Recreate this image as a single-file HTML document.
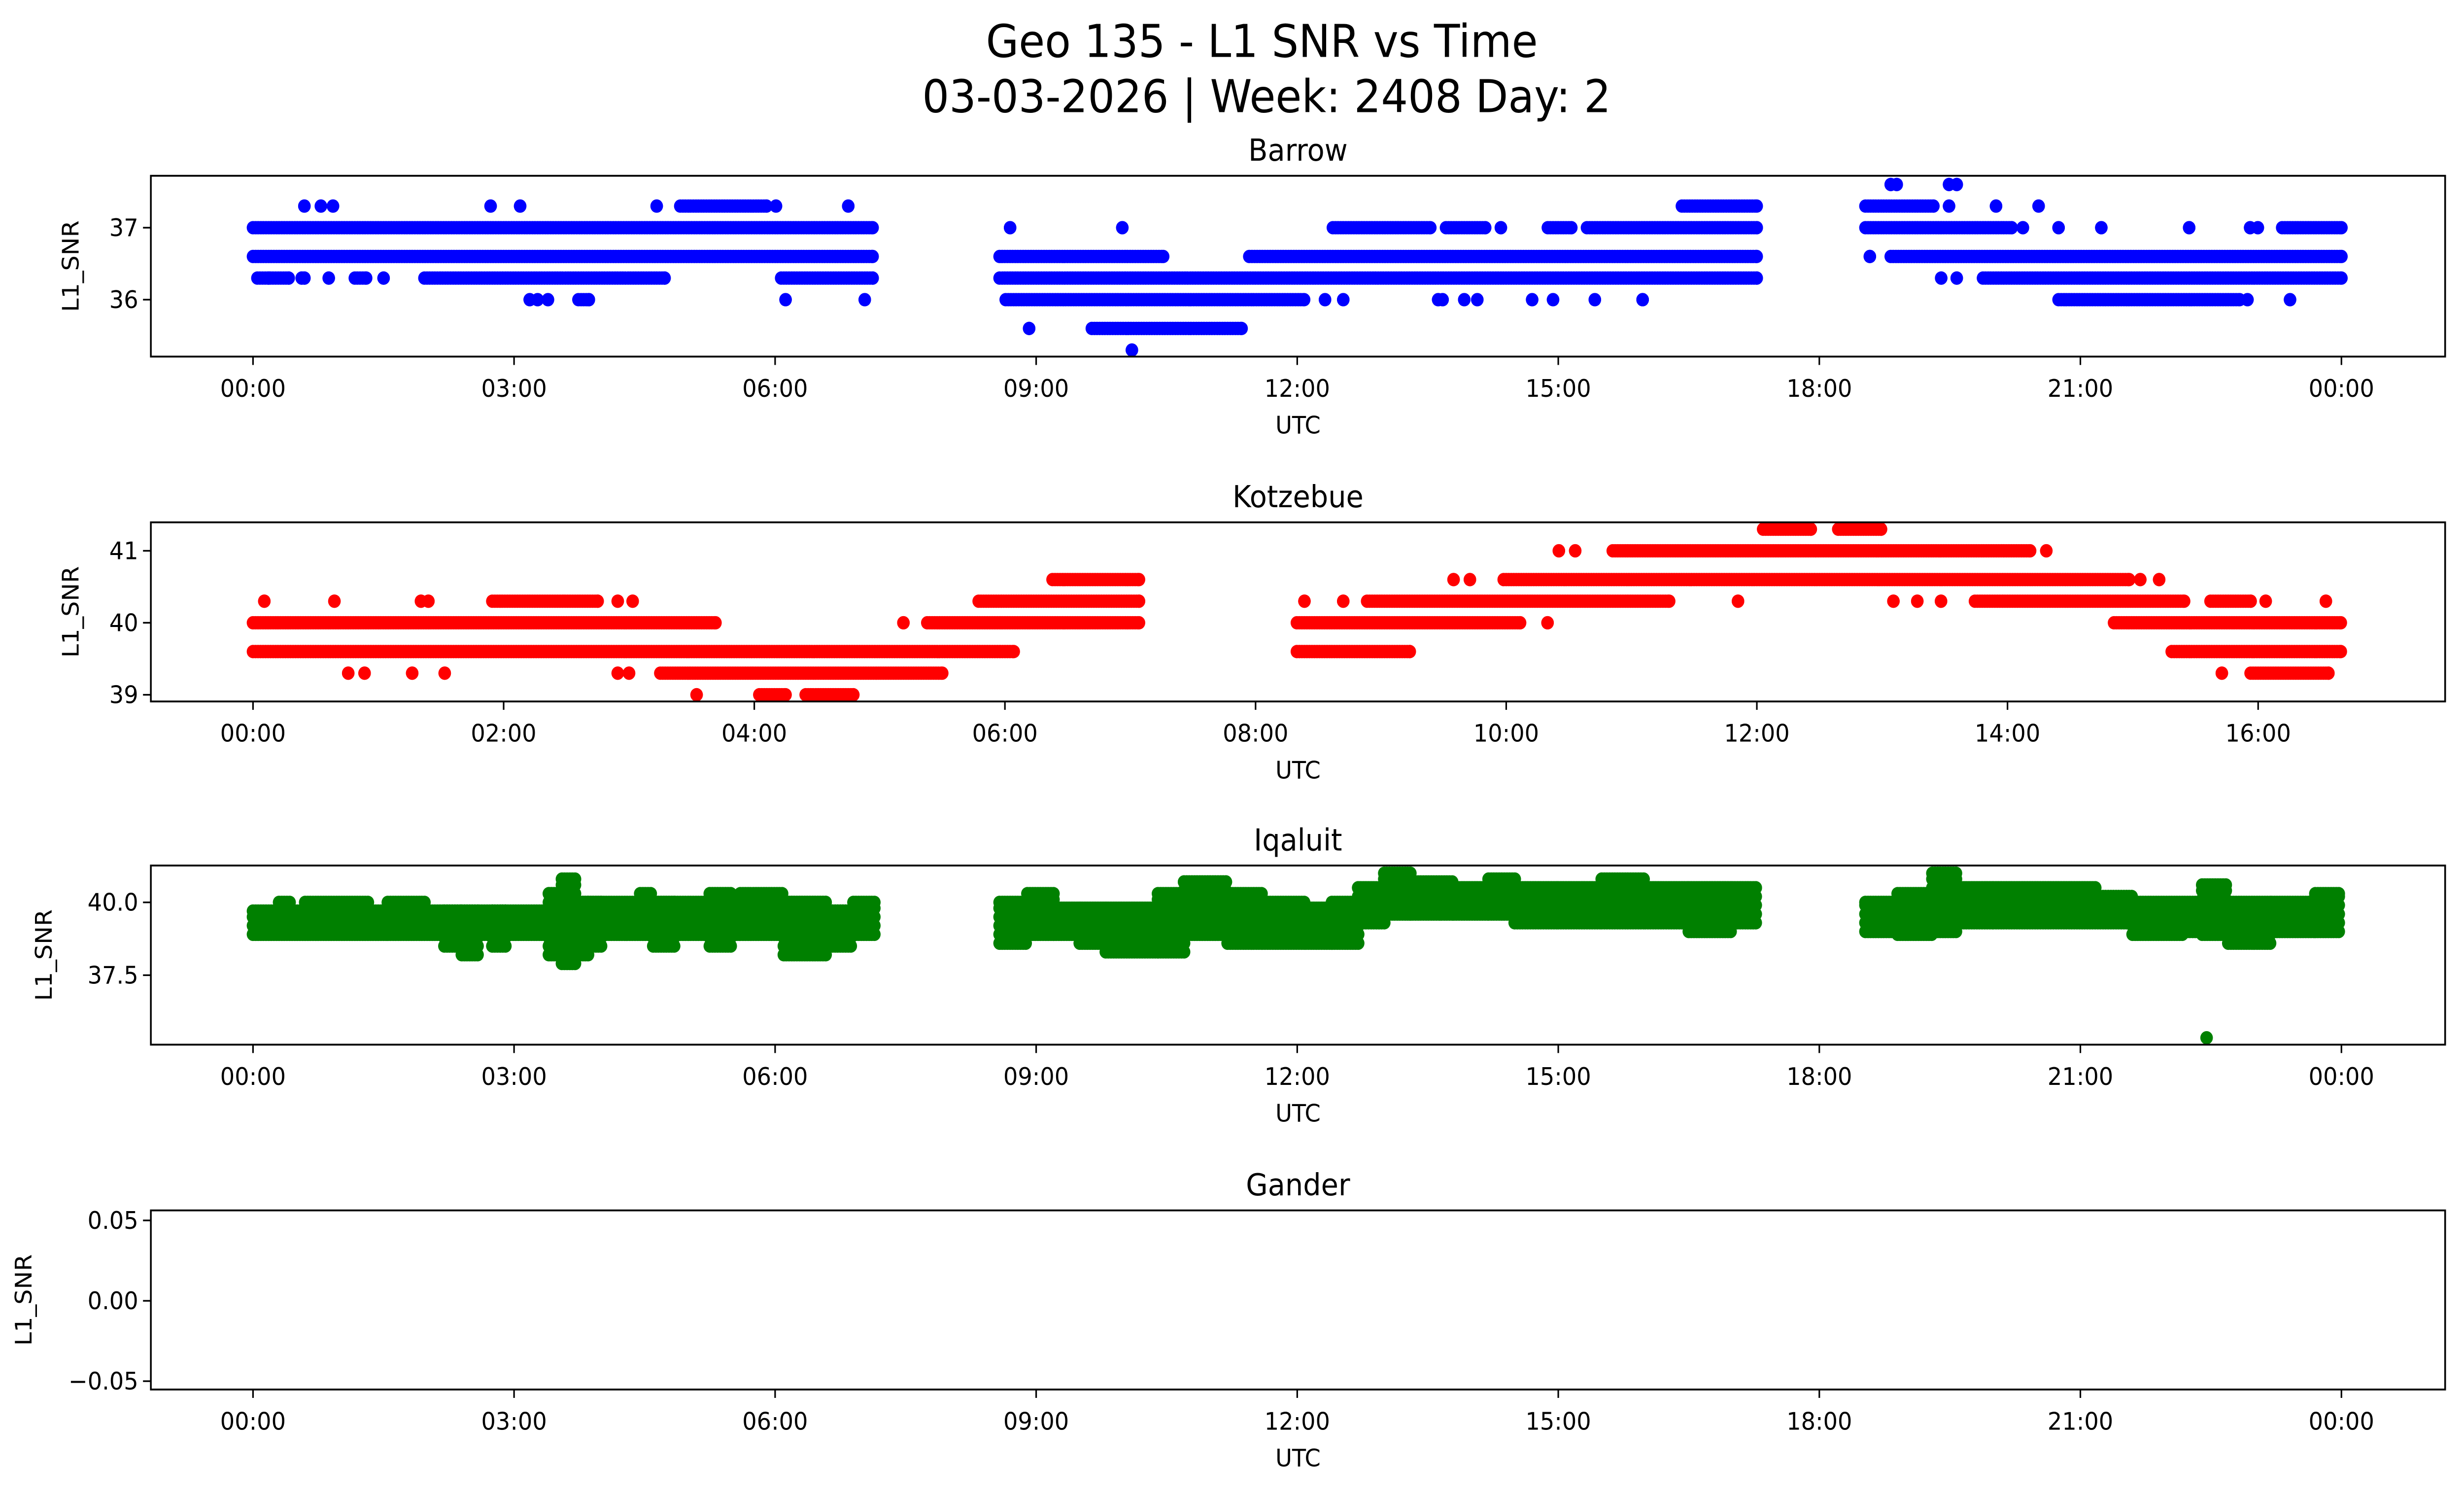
<!DOCTYPE html>
<html><head><meta charset="utf-8"><style>
html,body{margin:0;padding:0;background:#fff;width:100%;height:100%;overflow:hidden;}
svg{display:block;position:absolute;left:0;top:0;width:100vw;height:100vh;font-family:"DejaVu Sans","Liberation Sans",sans-serif;}
</style></head><body>
<svg id="fig" xmlns="http://www.w3.org/2000/svg" viewBox="0 0 1568 893" preserveAspectRatio="none">
<rect width="1568" height="893" fill="#fff"/>
<text x="803" y="34" font-size="27" text-anchor="middle">Geo 135 - L1 SNR vs Time</text>
<text x="806" y="67" font-size="27" text-anchor="middle">03-03-2026 | Week: 2408 Day: 2</text>
<g id="plots"></g>
</svg>
<script>
// ---- Barrow runs: level, start hour, end hour ----
const barrowLevel=[37.0,36.6,36.3,36.3,36.3,36.3,36.3,36.3,36.3,36.3,36.3,37.3,37.3,37.3,37.3,37.3,37.3,37.3,37.3,37.3,36.0,36.0,36.0,36.0,36.0,36.0,36.0,
37.0,37.0,37.0,37.0,37.0,37.0,37.0,36.6,36.6,36.3,36.0,36.0,36.0,36.0,36.0,36.0,36.0,36.0,36.0,36.0,36.0,36.0,35.6,35.6,35.3,37.3,
37.6,37.6,37.6,37.6,37.3,37.3,37.3,37.3,37.0,37.0,37.0,37.0,37.0,37.0,37.0,37.0,36.6,36.6,36.3,36.3,36.3,36.0,36.0,36.0];
const barrowStart=[0,0,0.05,0.56,0.87,1.17,1.5,1.97,6.07,0.18,0.59,0.78,0.92,3.07,4.64,4.91,6.01,6.84,0.59,2.73,3.18,3.27,3.39,3.74,6.12,7.03,3.86,
8.7,9.99,12.41,13.71,14.34,14.88,15.33,8.58,11.45,8.58,8.65,12.32,12.53,13.62,13.67,13.92,14.07,14.7,14.94,15.42,15.97,15.97,8.92,9.64,10.1,16.42,
18.82,18.89,19.49,19.58,18.53,19.49,20.03,20.52,18.53,20.34,20.75,21.24,22.25,22.95,23.04,23.32,18.58,18.82,19.4,19.58,19.88,20.75,22.92,23.41];
const barrowEnd=[7.12,7.12,0.41,0.56,0.87,1.3,1.5,4.73,7.12,0.18,0.59,0.78,0.92,3.07,4.64,5.9,6.01,6.84,0.59,2.73,3.18,3.27,3.39,3.86,6.12,7.03,3.86,
8.7,9.99,13.53,14.16,14.34,15.15,17.28,10.46,17.28,17.28,12.08,12.32,12.53,13.62,13.67,13.92,14.07,14.7,14.94,15.42,15.97,15.97,8.92,11.36,10.1,17.28,
18.82,18.89,19.49,19.58,19.31,19.49,20.03,20.52,20.21,20.34,20.75,21.24,22.25,22.95,23.04,24,18.58,24,19.4,19.58,24,22.83,22.92,23.41];
// ---- Kotzebue runs ----
const kotzLevel=[40.0,40.0,40.0,39.6,39.3,39.3,39.3,39.3,39.3,39.3,39.3,39.0,39.0,39.0,40.3,40.3,40.3,40.3,40.3,40.3,40.3,40.3,40.6,
41.3,41.3,41.0,41.0,41.0,41.0,40.6,40.6,40.6,40.6,40.6,40.3,40.3,40.3,40.3,40.3,40.3,40.3,40.3,40.3,40.3,40.3,40.0,40.0,40.0,39.6,39.6,39.3,39.3];
const kotzStart=[0,5.19,5.38,0,0.76,0.89,1.27,1.53,2.91,3.0,3.25,3.54,4.04,4.41,0.09,0.65,1.34,1.40,1.91,2.91,3.03,5.79,6.38,
12.05,12.65,10.42,10.55,10.85,14.31,9.58,9.71,9.98,15.06,15.21,8.39,8.70,8.89,11.85,13.09,13.28,13.47,13.74,15.62,16.06,16.54,8.33,10.33,14.85,8.33,15.31,15.71,15.94];
const kotzEnd=[3.69,5.19,7.07,6.07,0.76,0.89,1.27,1.53,2.91,3.0,5.5,3.54,4.25,4.79,0.09,0.65,1.34,1.40,2.75,2.91,3.03,7.07,7.07,
12.43,12.99,10.42,10.55,14.18,14.31,9.58,9.71,14.97,15.06,15.21,8.39,8.70,11.30,11.85,13.09,13.28,13.47,15.41,15.94,16.06,16.54,10.11,10.33,16.66,9.23,16.66,15.71,16.56];
// ---- Iqaluit banded samples (lo null = segment end) ----
const iqTime=[0,0.3,0.45,0.6,0.9,1.35,1.55,2.0,2.2,2.4,2.6,2.75,2.9,3.4,3.55,3.7,3.85,4.0,4.45,4.6,4.85,5.25,5.5,5.6,6.1,6.6,6.9,7.15,
8.58,8.9,9.2,9.5,9.8,10.4,10.7,11.2,11.6,12.1,12.4,12.7,13.0,13.3,13.8,14.2,14.5,15.0,15.5,16.0,16.5,17.0,17.28,
18.53,18.9,19.3,19.6,20.0,20.6,21.2,21.6,22.2,22.4,22.7,23.2,23.7,24.0];
const iqLo=[38.9,38.9,38.9,38.9,38.9,38.9,38.9,38.9,38.5,38.2,38.9,38.5,38.9,38.2,37.9,38.2,38.5,38.9,38.9,38.5,38.9,38.5,38.9,38.9,38.2,38.5,38.9,null,
38.6,38.9,38.9,38.6,38.3,38.3,38.9,38.6,38.6,38.6,38.6,39.3,39.6,39.6,39.6,39.6,39.3,39.3,39.3,39.3,39.0,39.3,null,
39.0,38.9,39.0,39.3,39.3,39.3,39.3,38.9,39.0,38.9,38.6,39.0,39.0,null];
const iqHi=[39.7,40.0,39.7,40.0,40.0,39.7,40.0,39.7,39.7,39.7,39.7,39.7,39.7,40.3,40.8,40.0,40.0,40.0,40.3,40.0,40.0,40.3,39.7,40.3,40.0,39.7,40.0,null,
40.0,40.3,39.8,39.8,39.8,40.3,40.7,40.3,40.0,39.8,40.0,40.5,41.0,40.7,40.5,40.8,40.5,40.5,40.8,40.5,40.5,40.5,null,
40.0,40.3,41.0,40.5,40.5,40.5,40.2,40.0,40.0,40.6,40.0,40.0,40.3,null];
const iqOutT=[22.45];
const iqOutV=[35.35];
// ---- tick labels ----
const dayTicks=["00:00","03:00","06:00","09:00","12:00","15:00","18:00","21:00","00:00"];
const kotzTicks=["00:00","02:00","04:00","06:00","08:00","10:00","12:00","14:00","16:00"];
const barrowYTicks=[36,37];
const kotzYTicks=[39,40,41];
const iqYTicks=[37.5,40.0];
const ganderYTicks=[-0.05,0.00,0.05];

const NS="http://www.w3.org/2000/svg";
const root=document.getElementById('plots');
function mk(tag,attrs,parent){const e=document.createElementNS(NS,tag);for(const k in attrs)e.setAttribute(k,attrs[k]);(parent||root).appendChild(e);return e;}

const L=96,R=1556;
function makeAxis(top,bottom,name,title,hx0,hPerUnit,yv0,yp0,ypu,yTicks,yFmt,xTicks,xStep,ylabX){
  const g=mk('g',{});
  
  
  const xs=h=>hx0+h*hPerUnit;
  const ys=v=>yp0-(v-yv0)*ypu;
  const t=mk('text',{x:826,y:top-9,'font-size':18,'text-anchor':'middle'},g);t.textContent=title;
  
  
  xTicks.forEach((lab,i)=>{const x=xs(i*xStep);
    const tl=mk('line',{x1:x,x2:x,y1:bottom,y2:bottom+5,stroke:'#000','stroke-width':1},g);
    
    
    const tx=mk('text',{x:x,y:bottom+24,'font-size':14.5,'text-anchor':'middle'},g);tx.textContent=lab;
    
    });
  yTicks.forEach(v=>{const y=ys(v);
    const tl=mk('line',{x1:L-5,x2:L,y1:y,y2:y,stroke:'#000','stroke-width':1},g);
    
    
    const tx=mk('text',{x:L-8,y:y+5,'font-size':14.5,'text-anchor':'end'},g);tx.textContent=yFmt(v);
    
    });
  const xl=mk('text',{x:826,y:bottom+46,'font-size':14.5,'text-anchor':'middle'},g);xl.textContent='UTC';
  
  
  const cy=(top+bottom)/2;
  const yl=mk('text',{x:ylabX,y:cy,'font-size':14.5,'text-anchor':'middle',transform:'rotate(-90 '+ylabX+' '+cy+')'},g);yl.textContent='L1_SNR';
  
  
  const dots=mk('g',{},g);
  
  
  const fr=mk('rect',{x:L,y:top,width:R-L,height:bottom-top,fill:'none',stroke:'#000','stroke-width':1.1},g);
  
  
  return {xs,ys,dots};
}
function dot(ax,h,v,col){const c=mk('circle',{cx:ax.xs(h).toFixed(1),cy:ax.ys(v).toFixed(1),r:4,fill:col},ax.dots);}
function drawRuns(ax,lev,st,en,col,step){
  for(let i=0;i<lev.length;i++){for(let h=st[i];h<=en[i]+1e-9;h+=step)dot(ax,h,lev[i],col);dot(ax,en[i],lev[i],col);}
}
// Barrow
const ax1=makeAxis(105,213,'barrow','Barrow',161,1329/24,37,136,43,barrowYTicks,v=>String(v),dayTicks,3,50);
drawRuns(ax1,barrowLevel,barrowStart,barrowEnd,'#0000ff',0.03);
// Kotzebue
const ax2=makeAxis(312,419,'kotzebue','Kotzebue',161,79.75,40,372,43,kotzYTicks,v=>String(v),kotzTicks,2,50);
drawRuns(ax2,kotzLevel,kotzStart,kotzEnd,'#ff0000',0.02);
// Iqaluit
const ax3=makeAxis(517,624,'iqaluit','Iqaluit',161,1329/24,40,539,17.4,iqYTicks,v=>v.toFixed(1),dayTicks,3,33);
for(let i=0;i<iqTime.length-1;i++){
  if(iqLo[i]===null)continue;
  for(let h=iqTime[i];h<iqTime[i+1];h+=0.03){for(let v=iqLo[i];v<=iqHi[i]+1e-6;v+=0.3)dot(ax3,h,v,'#008000');dot(ax3,h,iqHi[i],'#008000');}
}
iqOutT.forEach((t,i)=>dot(ax3,t,iqOutV[i],'#008000'));
// Gander
const ax4=makeAxis(723,830,'gander','Gander',161,1329/24,0,777,960,ganderYTicks,v=>v===0?'0.00':(v<0?'\u22120.05':'0.05'),dayTicks,3,20);
</script>
</body></html>
